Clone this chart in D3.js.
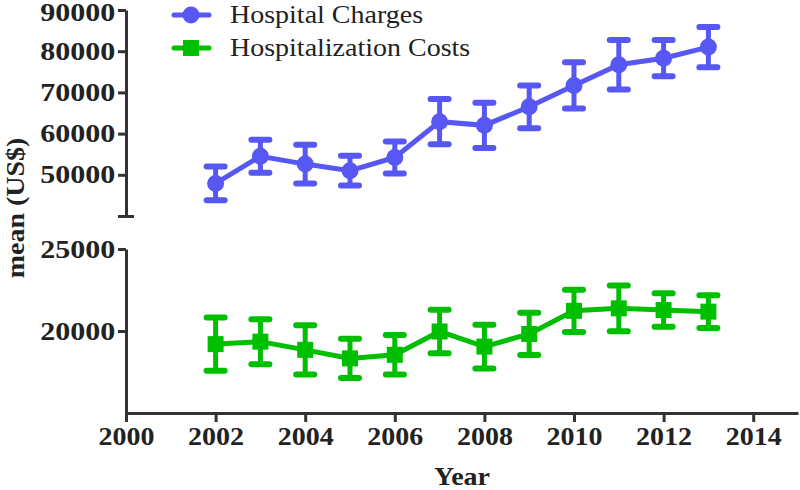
<!DOCTYPE html>
<html>
<head>
<meta charset="utf-8">
<script src="https://cdn.jsdelivr.net/npm/d3@7"></script>
<style>
body { margin: 0; background: #fff; }
</style>
</head>
<body>
<script>
var w = 800;
var h = 490;
var serif = "'Liberation Serif', 'Times New Roman', serif";

// data
var years = [2002, 2003, 2004, 2005, 2006, 2007, 2008, 2009, 2010, 2011, 2012, 2013];
var charges = [47900, 54500, 52600, 51000, 54200, 62900, 62000, 66500, 71700, 76700, 78300, 81000];
var chargesErr = [4100, 4000, 4700, 3600, 3900, 5500, 5500, 5200, 5600, 6000, 4400, 4900];
var costs = [19200, 19350, 18850, 18330, 18550, 19970, 19050, 19820, 21230, 21380, 21280, 21180];
var costsErr = [1620, 1370, 1500, 1200, 1200, 1320, 1330, 1290, 1290, 1390, 1020, 1000];
var xTicks = [2000, 2002, 2004, 2006, 2008, 2010, 2012, 2014];
var upperTicks = [50000, 60000, 70000, 80000, 90000];
var lowerTicks = [20000, 25000];
var seriesNames = ["Hospital Charges", "Hospitalization Costs"];

var blue = "#5757f4";
var green = "#00bf00";
var axisColor = "#333";

var svg = d3.select("body")
		.append("svg")
		.attr("width", w)
		.attr("height", h);

var x = d3.scaleLinear().domain([2000, 2015]).range([126, 798]);
var yTop = d3.scaleLinear().domain([40000, 90000]).range([216, 10]);
var yBot = d3.scaleLinear().domain([15000, 25000]).range([413, 249]);

function styleAxis(g) {
	g.attr("font-family", serif);
	g.select(".domain").attr("stroke", axisColor).attr("stroke-width", 3);
	g.selectAll(".tick line").attr("stroke", axisColor).attr("stroke-width", 3);
	g.selectAll(".tick text")
			.attr("fill", "#222")
			.attr("font-size", "25px")
			.attr("font-weight", "bold");
}

// upper y axis
svg.append("g")
		.attr("transform", "translate(126,0)")
		.call(d3.axisLeft(yTop).tickValues([40000].concat(upperTicks)).tickSize(8).tickSizeOuter(0).tickFormat(function(d) {
	return d == 40000 ? "" : d;
}))
		.call(styleAxis)
		.call(function(g) {
	g.selectAll(".tick line").attr("x1", function(d) { return d == 40000 ? 8 : 0; });
	g.selectAll(".tick text")
			.attr("x", -9)
			.attr("dy", function(d) { return d == 90000 ? "0.42em" : "0.32em"; })
			.attr("transform", "scale(1.2,1)");
});

// lower y axis
svg.append("g")
		.attr("transform", "translate(126,0)")
		.call(d3.axisLeft(yBot).tickValues(lowerTicks).tickSize(8).tickSizeOuter(0).tickFormat(d3.format("d")))
		.call(styleAxis)
		.call(function(g) {
	g.selectAll(".tick text").attr("x", -9).attr("transform", "scale(1.2,1)");
});

// x axis
svg.append("g")
		.attr("transform", "translate(0,413)")
		.call(d3.axisBottom(x).tickValues(xTicks).tickSize(9).tickSizeOuter(0).tickFormat(d3.format("d")))
		.call(styleAxis)
		.call(function(g) {
	g.selectAll(".tick text").attr("y", 14).attr("transform", "scale(1.12,1)");
});

svg.append("text")
		.attr("transform", "translate(" + 462 + ",485) scale(1.12,1)")
		.attr("text-anchor", "middle")
		.attr("font-family", serif)
		.attr("font-size", "25px")
		.attr("font-weight", "bold")
		.attr("fill", "#222")
		.text("Year");

svg.append("text")
		.attr("transform", "translate(24,208) rotate(-90) scale(1.12,1)")
		.attr("text-anchor", "middle")
		.attr("font-family", serif)
		.attr("font-size", "25px")
		.attr("font-weight", "bold")
		.attr("fill", "#222")
		.text("mean (US$)");

function drawSeries(vals, errs, y, color, square) {
	var g = svg.append("g");
	var line = d3.line()
			.x(function(d, i) { return x(years[i]); })
			.y(function(d) { return y(d); });
	g.append("path")
			.datum(vals)
			.attr("d", line)
			.attr("fill", "none")
			.attr("stroke", color)
			.attr("stroke-width", 5);

	var bars = g.selectAll("g.err")
			.data(vals)
			.enter()
			.append("g");
	bars.append("line")
			.attr("x1", function(d, i) { return x(years[i]); })
			.attr("x2", function(d, i) { return x(years[i]); })
			.attr("y1", function(d, i) { return y(d - errs[i]); })
			.attr("y2", function(d, i) { return y(d + errs[i]); })
			.attr("stroke", color)
			.attr("stroke-width", 5);
	[1, -1].forEach(function(s) {
		bars.append("line")
				.attr("x1", function(d, i) { return x(years[i]) - 9; })
				.attr("x2", function(d, i) { return x(years[i]) + 9; })
				.attr("y1", function(d, i) { return y(d + s * errs[i]); })
				.attr("y2", function(d, i) { return y(d + s * errs[i]); })
				.attr("stroke", color)
				.attr("stroke-width", 6)
				.attr("stroke-linecap", "round");
	});
	if (square) {
		bars.append("rect")
				.attr("x", function(d, i) { return x(years[i]) - 8; })
				.attr("y", function(d) { return y(d) - 8; })
				.attr("width", 16)
				.attr("height", 16)
				.attr("fill", color);
	} else {
		bars.append("circle")
				.attr("cx", function(d, i) { return x(years[i]); })
				.attr("cy", function(d) { return y(d); })
				.attr("r", 8.5)
				.attr("fill", color);
	}
}

drawSeries(charges, chargesErr, yTop, blue, false);
drawSeries(costs, costsErr, yBot, green, true);

// legend
var legend = svg.append("g");
[[blue, false], [green, true]].forEach(function(s, i) {
	var ly = 15 + i * 33;
	legend.append("line")
			.attr("x1", 174).attr("x2", 209)
			.attr("y1", ly).attr("y2", ly)
			.attr("stroke", s[0]).attr("stroke-width", 5).attr("stroke-linecap", "round");
	if (s[1]) {
		legend.append("rect").attr("x", 183).attr("y", ly - 8).attr("width", 16).attr("height", 16).attr("fill", s[0]);
	} else {
		legend.append("circle").attr("cx", 191).attr("cy", ly).attr("r", 8.5).attr("fill", s[0]);
	}
	legend.append("text")
			.attr("transform", "translate(230," + (ly + 8) + ") scale(1.12,1)")
			.attr("font-family", serif)
			.attr("font-size", "25px")
			.attr("fill", "#222")
			.text(seriesNames[i]);
});
</script>
</body>
</html>
